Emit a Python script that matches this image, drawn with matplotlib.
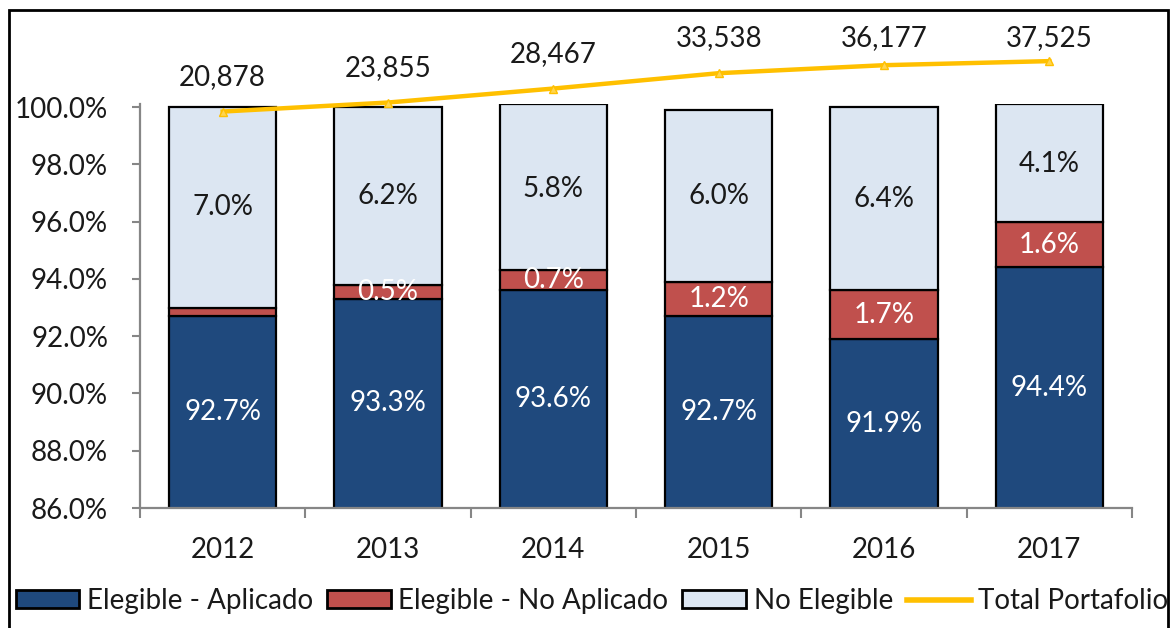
import numpy as np
import matplotlib
matplotlib.use("Agg")
import matplotlib.pyplot as plt
from matplotlib.patches import Patch, Rectangle
from matplotlib.lines import Line2D
from matplotlib.ticker import FuncFormatter, FixedLocator

years = ["2012", "2013", "2014", "2015", "2016", "2017"]
aplicado = [92.7, 93.3, 93.6, 92.7, 91.9, 94.4]
no_aplicado = [0.3, 0.5, 0.7, 1.2, 1.7, 1.6]
no_elegible = [7.0, 6.2, 5.8, 6.0, 6.4, 4.1]
total_portafolio = [20878, 23855, 28467, 33538, 36177, 37525]

plt.rcParams['font.family'] = ['Lato', 'DejaVu Sans']
TXT = '#1a1a1a'
FS = 20

c_blue = '#1F497D'
c_red = '#C0504D'
c_light = '#DCE6F2'
c_gold = '#FFC000'
c_axis = '#868686'

W, H = 1176, 628
fig = plt.figure(figsize=(W / 100, H / 100), dpi=100)
ax = fig.add_axes([140 / W, 1 - 508 / H, (1132 - 140) / W, (508 - 103.6) / H])

x = np.arange(len(years))
bw = 0.65
ymin, ymax = 86, 100.12
bottom_red = np.array(aplicado)
bottom_light = bottom_red + np.array(no_aplicado)

ax.bar(x, aplicado, bw, color=c_blue, edgecolor='black', linewidth=1.6, zorder=2)
ax.bar(x, no_aplicado, bw, bottom=bottom_red, color=c_red, edgecolor='black', linewidth=1.6, zorder=2)
ax.bar(x, no_elegible, bw, bottom=bottom_light, color=c_light, edgecolor='black', linewidth=1.6, zorder=2)

# segment labels, centred on the visible part of each segment
for i in range(len(years)):
    ax.text(x[i], (ymin + aplicado[i]) / 2, f"{aplicado[i]:.1f}%", ha='center', va='center',
            color='white', fontsize=FS, zorder=3)
    if no_aplicado[i] >= 0.5:
        ax.text(x[i], bottom_red[i] + no_aplicado[i] / 2, f"{no_aplicado[i]:.1f}%", ha='center',
                va='center', color='white', fontsize=FS, zorder=3)
    top = min(bottom_light[i] + no_elegible[i], 100)
    ax.text(x[i], (bottom_light[i] + top) / 2, f"{no_elegible[i]:.1f}%", ha='center', va='center',
            color=TXT, fontsize=FS, zorder=3)

ax.set_ylim(ymin, ymax)
ax.set_xlim(-0.5, len(years) - 0.5)
ax.yaxis.set_major_locator(FixedLocator(np.arange(86, 100.1, 2)))
ax.yaxis.set_major_formatter(FuncFormatter(lambda v, p: f"{v:.1f}%"))
ax.set_xticks(x)
ax.set_xticklabels(years)
ax.set_xticks(np.arange(-0.5, len(years), 1), minor=True)
ax.tick_params(axis='x', which='major', length=0, pad=21, labelsize=FS, labelcolor=TXT)
ax.tick_params(axis='x', which='minor', length=7, width=1.5, color=c_axis, direction='out')
ax.tick_params(axis='y', length=6, width=1.5, color=c_axis, pad=17, labelsize=FS, labelcolor=TXT)
for s in ['top', 'right']:
    ax.spines[s].set_visible(False)
for s in ['left', 'bottom']:
    ax.spines[s].set_color(c_axis)
    ax.spines[s].set_linewidth(1.6)

# portfolio total on its own scale
ax2 = ax.twinx()
ax2.set_ylim(-110000, 23500)
ax2.axis('off')
ax2.plot(x, total_portafolio, color=c_gold, linewidth=3.2, marker='^', markersize=6,
         markerfacecolor='#FFD54F', markeredgecolor=c_gold, clip_on=False, zorder=4)
for i, v in enumerate(total_portafolio):
    ax2.text(x[i], min(v + 11500, 45000), f"{v:,}", ha='center', va='center',
             fontsize=FS, color=TXT, clip_on=False)

handles = [
    Patch(facecolor=c_blue, edgecolor='black', linewidth=2),
    Patch(facecolor=c_red, edgecolor='black', linewidth=2),
    Patch(facecolor=c_light, edgecolor='black', linewidth=2),
    Line2D([0], [0], color=c_gold, linewidth=4),
]
labels = ["Elegible - Aplicado", "Elegible - No Aplicado", "No Elegible", "Total Portafolio"]
fig.legend(handles, labels, loc='center', bbox_to_anchor=(592 / W, 1 - 601 / H), ncol=4,
           frameon=False, fontsize=FS, handlelength=2.3, handletextpad=0.27,
           columnspacing=0.5, handleheight=0.6, labelcolor=TXT, borderpad=0, borderaxespad=0)

# outer frame
fig.add_artist(Rectangle((9 / W, -0.05), (1168 - 9) / W, 1.05 - 10 / H, transform=fig.transFigure,
                         fill=False, edgecolor='black', linewidth=2))

fig.savefig("out.png", dpi=100)
